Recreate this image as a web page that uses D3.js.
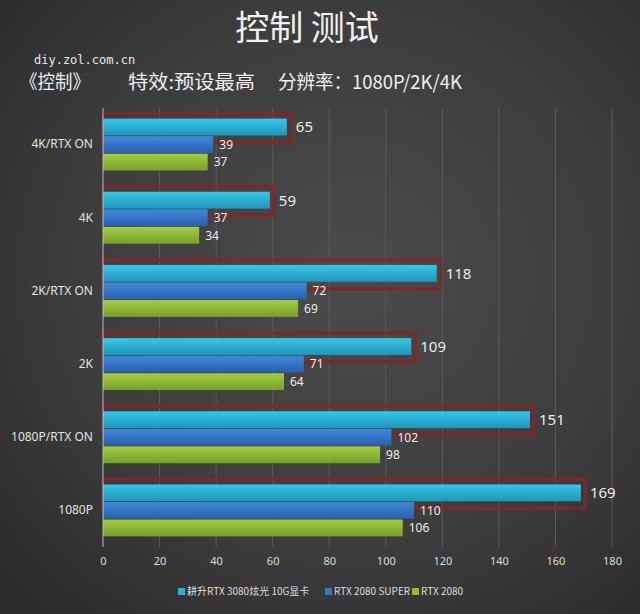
<!DOCTYPE html>
<html>
<head>
<meta charset="utf-8">
<script src="https://cdn.jsdelivr.net/npm/d3@7"></script>
<style>
  html, body { margin: 0; padding: 0; background: #333; }
  svg { display: block; }
</style>
</head>
<body>
<div id="chart"></div>
<script>
// data
const categories = ["4K/RTX ON", "4K", "2K/RTX ON", "2K", "1080P/RTX ON", "1080P"];
const seriesNames = ["耕升RTX 3080炫光 10G显卡", "RTX 2080 SUPER", "RTX 2080"];
const gainward3080 = [65, 59, 118, 109, 151, 169];
const rtx2080super = [39, 37, 72, 71, 102, 110];
const rtx2080 = [37, 34, 69, 64, 98, 106];
const xTicks = [0, 20, 40, 60, 80, 100, 120, 140, 160, 180];

const seriesValues = [gainward3080, rtx2080super, rtx2080];
const colorsTop = ["#3cc4e6", "#4189da", "#a3cc44"];
const colorsBottom = ["#1c98bc", "#2860ae", "#76a128"];
const legendColors = ["#2fb1d3", "#3478c8", "#8fbb36"];

const W = 640, H = 614;
const svg = d3.select("#chart").append("svg")
  .attr("width", W)
  .attr("height", H);

const defs = svg.append("defs");
const bg = defs.append("radialGradient")
  .attr("id", "bg")
  .attr("cx", "0.55").attr("cy", "0.45").attr("r", "0.75");
bg.append("stop").attr("offset", "0%").attr("stop-color", "#4b4b4b");
bg.append("stop").attr("offset", "60%").attr("stop-color", "#3c3c3c");
bg.append("stop").attr("offset", "100%").attr("stop-color", "#2a2a2a");

seriesNames.forEach((s, i) => {
  const g = defs.append("linearGradient")
    .attr("id", "bar" + i)
    .attr("x1", 0).attr("y1", 0).attr("x2", 0).attr("y2", 1);
  g.append("stop").attr("offset", "0%").attr("stop-color", colorsTop[i]);
  g.append("stop").attr("offset", "100%").attr("stop-color", colorsBottom[i]);
});

svg.append("rect")
  .attr("width", W).attr("height", H)
  .attr("fill", "url(#bg)");

// titles
svg.append("text")
  .attr("x", 307).attr("y", 40)
  .attr("text-anchor", "middle")
  .attr("fill", "#f2f2f2")
  .style("font-family", "'Noto Sans CJK SC', sans-serif")
  .style("font-size", "34px")
  .text("控制 测试");

svg.append("text")
  .attr("x", 34).attr("y", 64)
  .attr("fill", "#e8e8e8")
  .style("font-family", "'DejaVu Sans Mono', monospace")
  .style("font-size", "12px")
  .text("diy.zol.com.cn");

// subtitle, in three pieces like the original
const subtitle = [
  {t: "《控制》", x: 20, len: 70},
  {t: "特效:预设最高", x: 128, len: 127},
  {t: "分辨率：1080P/2K/4K", x: 278, len: 184}
];
svg.append("g")
  .selectAll("text")
  .data(subtitle)
  .join("text")
    .attr("x", d => d.x).attr("y", 89)
    .attr("fill", "#f0f0f0")
    .attr("textLength", d => d.len)
    .attr("lengthAdjust", "spacingAndGlyphs")
    .style("font-family", "'Noto Sans CJK SC', sans-serif")
    .style("font-size", "19px")
    .text(d => d.t);

// scales
const margin = {left: 103, right: 28, top: 108, bottom: 67};
const x = d3.scaleLinear()
  .domain([0, 180])
  .range([margin.left, W - margin.right]);

const y = d3.scaleBand()
  .domain(categories)
  .range([margin.top, H - margin.bottom])
  .paddingInner(0.29)
  .paddingOuter(0.145);

const ySub = d3.scaleBand()
  .domain(d3.range(seriesNames.length))
  .range([0, y.bandwidth()])
  .paddingInner(0.04);

// gridlines
svg.append("g")
  .selectAll("line")
  .data(xTicks.slice(1))
  .join("line")
    .attr("x1", d => x(d)).attr("x2", d => x(d))
    .attr("y1", margin.top).attr("y2", H - margin.bottom)
    .attr("stroke", "#5c5c5c")
    .attr("stroke-width", 1);

// x axis labels
const xAxis = svg.append("g")
  .attr("transform", `translate(0, ${H - margin.bottom})`)
  .call(d3.axisBottom(x).tickValues(xTicks).tickSize(0).tickPadding(10));
xAxis.select(".domain").remove();
xAxis.selectAll("text")
  .attr("fill", "#dcdcdc")
  .style("font-family", "'Noto Sans', sans-serif")
  .style("font-size", "11px");

// red highlight boxes around 3080 bars
svg.append("g")
  .selectAll("rect")
  .data(categories)
  .join("rect")
    .attr("x", x(0))
    .attr("y", d => y(d) - 5)
    .attr("width", (d, i) => x(gainward3080[i]) - x(0) + 4)
    .attr("height", ySub.bandwidth() + 12)
    .attr("fill", "none")
    .attr("stroke", "#7a2a2c")
    .attr("stroke-width", 3.5);

// bars
seriesValues.forEach((vals, s) => {
  svg.append("g")
    .selectAll("rect")
    .data(categories)
    .join("rect")
      .attr("x", x(0))
      .attr("y", d => y(d) + ySub(s))
      .attr("width", (d, i) => x(vals[i]) - x(0))
      .attr("height", ySub.bandwidth())
      .attr("fill", `url(#bar${s})`);

  svg.append("g")
    .selectAll("text")
    .data(categories)
    .join("text")
      .attr("x", (d, i) => x(vals[i]) + (s === 0 ? 9 : 6))
      .attr("y", d => y(d) + ySub(s) + ySub.bandwidth() / 2)
      .attr("dy", "0.36em")
      .attr("fill", "#ececec")
      .style("font-family", "'Noto Sans', sans-serif")
      .style("font-size", s === 0 ? "15px" : "12px")
      .text((d, i) => vals[i]);
});

// y axis line
svg.append("line")
  .attr("x1", x(0)).attr("x2", x(0))
  .attr("y1", margin.top).attr("y2", H - margin.bottom)
  .attr("stroke", "#bdbdbd")
  .attr("stroke-width", 1);

// category labels
const yAxis = svg.append("g")
  .attr("transform", `translate(${x(0)}, 0)`)
  .call(d3.axisLeft(y).tickSize(0).tickPadding(10));
yAxis.select(".domain").remove();
yAxis.selectAll("text")
  .attr("fill", "#e2e2e2")
  .style("font-family", "'Noto Sans', sans-serif")
  .style("font-size", "12px");

// legend
const legendX = [178, 325, 412];
const legend = svg.append("g")
  .selectAll("g")
  .data(seriesNames)
  .join("g")
    .attr("transform", (d, i) => `translate(${legendX[i]}, 595)`);
legend.append("rect")
  .attr("x", 0).attr("y", -7)
  .attr("width", 7).attr("height", 7)
  .attr("fill", (d, i) => legendColors[i]);
legend.append("text")
  .attr("x", 9).attr("y", 0)
  .attr("fill", "#dcdcdc")
  .style("font-family", "'Noto Sans CJK SC', sans-serif")
  .style("font-size", "10px")
  .text(d => d);
</script>
</body>
</html>
